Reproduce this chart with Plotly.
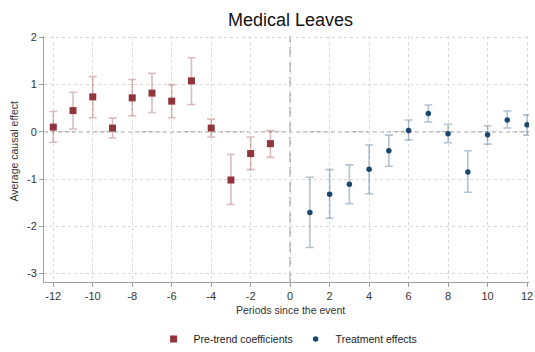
import plotly.graph_objects as go

# Event-study estimates: pre-trend coefficients and post-event treatment effects
pre_periods = [-12, -11, -10, -9, -8, -7, -6, -5, -4, -3, -2, -1]
pre_coef = [0.10, 0.45, 0.74, 0.08, 0.72, 0.82, 0.65, 1.08, 0.08, -1.02, -0.46, -0.25]
pre_upper = [0.43, 0.84, 1.17, 0.29, 1.11, 1.24, 1.00, 1.57, 0.27, -0.48, -0.11, 0.03]
pre_lower = [-0.22, 0.06, 0.30, -0.13, 0.34, 0.41, 0.30, 0.58, -0.11, -1.54, -0.80, -0.54]

post_periods = [1, 2, 3, 4, 5, 6, 7, 8, 9, 10, 11, 12]
post_coef = [-1.71, -1.32, -1.11, -0.79, -0.40, 0.03, 0.39, -0.04, -0.85, -0.06, 0.25, 0.15]
post_upper = [-0.96, -0.80, -0.70, -0.28, -0.07, 0.25, 0.57, 0.16, -0.40, 0.13, 0.44, 0.36]
post_lower = [-2.45, -1.83, -1.52, -1.31, -0.73, -0.17, 0.21, -0.23, -1.28, -0.26, 0.08, -0.07]

x_ticks = list(range(-12, 13, 2))
x_tick_labels = [str(v) for v in x_ticks]
y_ticks = [-3, -2, -1, 0, 1, 2]
y_tick_labels = [str(v) for v in y_ticks]

RED = "#90353b"
RED_CI = "rgba(144,53,59,0.33)"
BLUE = "#1a476f"
BLUE_CI = "rgba(26,71,111,0.33)"
FONT = "Liberation Sans, Arial, sans-serif"
AXIS_GRAY = "#a0a0a0"

fig = go.Figure()

fig.add_trace(go.Scatter(
    x=pre_periods, y=pre_coef, mode="markers", name="Pre-trend coefficients",
    marker=dict(symbol="square", size=7, color=RED),
    error_y=dict(type="data", symmetric=False,
                 array=[u - c for u, c in zip(pre_upper, pre_coef)],
                 arrayminus=[c - l for c, l in zip(pre_coef, pre_lower)],
                 color=RED_CI, thickness=1.6, width=4),
))

fig.add_trace(go.Scatter(
    x=post_periods, y=post_coef, mode="markers", name="Treatment effects",
    marker=dict(symbol="circle", size=5.5, color=BLUE),
    error_y=dict(type="data", symmetric=False,
                 array=[u - c for u, c in zip(post_upper, post_coef)],
                 arrayminus=[c - l for c, l in zip(post_coef, post_lower)],
                 color=BLUE_CI, thickness=1.6, width=4),
))

# Reference lines at zero
fig.add_hline(y=0, line=dict(color="#8a8a8a", width=1, dash="4px,3px"), layer="below")
fig.add_vline(x=0, line=dict(color="#a8a8a8", width=1.5, dash="10px,5px"), layer="below")

# Titles placed as annotations so the plot area stays fixed
fig.add_annotation(text="Medical Leaves", xref="paper", yref="paper",
                   x=0.508, y=1.067, xanchor="center", yanchor="middle", showarrow=False,
                   font=dict(family=FONT, size=18, color="#111111"))
fig.add_annotation(text="Periods since the event", xref="paper", yref="paper",
                   x=0.509, y=-0.115, xanchor="center", yanchor="middle", showarrow=False,
                   font=dict(family=FONT, size=10.5, color="#333333"))
fig.add_annotation(text="Average causal effect", xref="paper", yref="paper",
                   x=-0.062, y=0.534, xanchor="center", yanchor="middle", showarrow=False,
                   textangle=-90, font=dict(family=FONT, size=10.5, color="#333333"))

axis_common = dict(
    ticks="outside", ticklen=4, tickcolor=AXIS_GRAY,
    showline=True, linecolor=AXIS_GRAY, linewidth=1,
    showgrid=True, gridcolor="#d9d9d9", griddash="dot", gridwidth=1,
    zeroline=False, automargin=False,
    tickfont=dict(family=FONT, size=11, color="#333333"),
)

fig.update_layout(
    width=535, height=352,
    margin=dict(l=44, r=6, t=36, b=70, autoexpand=False),
    paper_bgcolor="white", plot_bgcolor="white",
    font=dict(family=FONT, color="#333333", size=11),
    showlegend=True,
    legend=dict(orientation="h", x=0.226, xanchor="left",
                yref="container", y=0.037, yanchor="middle",
                font=dict(family=FONT, size=10.5, color="#222222"),
                itemwidth=30, tracegroupgap=0,
                entrywidth=97, entrywidthmode="pixels"),
    xaxis=dict(range=[-12.47, 12.1], tickvals=x_ticks, ticktext=x_tick_labels, **axis_common),
    yaxis=dict(range=[-3.18, 2.03], tickvals=y_ticks, ticktext=y_tick_labels, **axis_common),
)

fig.write_html("out.html")
